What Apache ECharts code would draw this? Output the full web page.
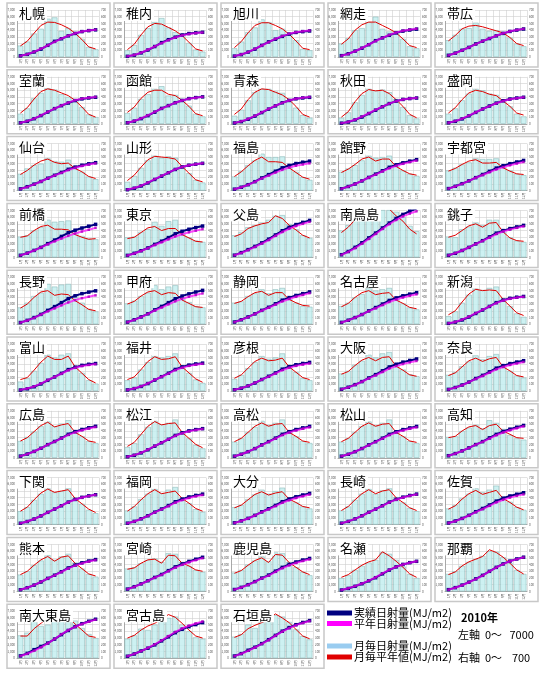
<!DOCTYPE html>
<html>
<head>
<meta charset="utf-8">
<script src="https://cdn.jsdelivr.net/npm/echarts@6/dist/echarts.min.js"></script>
<style>
  html, body { margin: 0; padding: 0; background: #fff; }
  #main { width: 540px; height: 674px; }
</style>
</head>
<body>
<div id="main"></div>
<script>
const months = ['1月', '2月', '3月', '4月', '5月', '6月', '7月', '8月', '9月', '10月', '11月', '12月'];

const stations = [
  '札幌', '稚内', '旭川', '網走', '帯広',
  '室蘭', '函館', '青森', '秋田', '盛岡',
  '仙台', '山形', '福島', '館野', '宇都宮',
  '前橋', '東京', '父島', '南鳥島', '銚子',
  '長野', '甲府', '静岡', '名古屋', '新潟',
  '富山', '福井', '彦根', '大阪', '奈良',
  '広島', '松江', '高松', '松山', '高知',
  '下関', '福岡', '大分', '長崎', '佐賀',
  '熊本', '宮崎', '鹿児島', '名瀬', '那覇',
  '南大東島', '宮古島', '石垣島'
];

// 2010 monthly irradiation (MJ/m2), same order as stations
const actual2010 = [
  [170, 230, 350, 420, 570, 590, 390, 430, 360, 270, 150, 115],
  [100, 180, 330, 430, 520, 580, 440, 370, 330, 210, 110, 80],
  [130, 230, 370, 440, 560, 520, 400, 420, 340, 250, 120, 100],
  [200, 280, 400, 430, 520, 600, 420, 380, 360, 270, 160, 130],
  [250, 330, 420, 430, 510, 420, 390, 400, 370, 290, 200, 160],
  [150, 230, 380, 460, 530, 510, 440, 400, 360, 250, 140, 100],
  [160, 240, 370, 440, 520, 560, 420, 430, 340, 270, 150, 110],
  [120, 210, 350, 470, 520, 520, 480, 460, 350, 240, 130, 90],
  [90, 170, 320, 430, 520, 500, 510, 470, 370, 250, 130, 80],
  [150, 230, 350, 450, 520, 500, 450, 430, 350, 260, 150, 110],
  [250, 330, 380, 400, 480, 440, 430, 460, 330, 280, 210, 170],
  [130, 220, 340, 450, 520, 490, 510, 490, 370, 260, 160, 120],
  [210, 290, 380, 450, 550, 500, 500, 510, 360, 280, 200, 160],
  [280, 330, 380, 450, 520, 490, 500, 520, 370, 300, 250, 220],
  [300, 340, 390, 420, 480, 470, 470, 480, 360, 300, 250, 230],
  [310, 330, 400, 450, 560, 530, 540, 550, 380, 320, 280, 270],
  [300, 310, 380, 420, 530, 470, 540, 560, 380, 300, 250, 230],
  [330, 380, 450, 480, 520, 560, 620, 630, 500, 420, 330, 290],
  [400, 480, 620, 680, 720, 720, 760, 740, 680, 600, 470, 390],
  [310, 300, 420, 460, 520, 480, 560, 560, 380, 300, 250, 230],
  [250, 320, 420, 470, 600, 560, 590, 600, 420, 320, 230, 190],
  [310, 350, 420, 470, 580, 520, 560, 580, 400, 330, 270, 250],
  [320, 340, 420, 460, 520, 460, 520, 540, 380, 320, 270, 260],
  [270, 320, 400, 450, 540, 500, 520, 540, 380, 310, 250, 220],
  [120, 190, 320, 440, 530, 510, 540, 560, 380, 270, 160, 110],
  [140, 190, 300, 420, 540, 500, 540, 560, 360, 270, 160, 110],
  [160, 200, 320, 430, 520, 500, 520, 560, 380, 270, 170, 120],
  [180, 240, 340, 430, 520, 480, 500, 560, 380, 280, 190, 160],
  [260, 300, 390, 450, 540, 500, 560, 580, 400, 320, 250, 220],
  [240, 280, 370, 440, 530, 470, 520, 550, 380, 300, 230, 200],
  [250, 310, 390, 470, 540, 470, 510, 560, 400, 320, 250, 220],
  [160, 220, 350, 460, 550, 500, 520, 570, 390, 290, 190, 140],
  [240, 290, 380, 460, 550, 490, 520, 570, 390, 320, 250, 220],
  [240, 290, 380, 470, 540, 480, 520, 570, 390, 320, 250, 220],
  [310, 320, 400, 450, 490, 440, 560, 520, 430, 340, 290, 270],
  [200, 260, 370, 460, 540, 480, 500, 540, 400, 310, 220, 170],
  [210, 270, 380, 460, 530, 470, 520, 560, 400, 320, 230, 190],
  [260, 290, 380, 450, 520, 460, 500, 550, 400, 330, 270, 240],
  [210, 270, 370, 460, 530, 460, 510, 540, 410, 330, 250, 200],
  [240, 290, 390, 460, 540, 480, 520, 580, 420, 340, 260, 220],
  [250, 300, 390, 460, 540, 470, 520, 560, 430, 340, 260, 220],
  [340, 360, 420, 470, 490, 440, 570, 560, 440, 380, 320, 290],
  [280, 320, 400, 460, 520, 450, 580, 570, 440, 360, 290, 240],
  [200, 240, 320, 380, 430, 470, 580, 560, 470, 370, 260, 200],
  [260, 300, 380, 440, 480, 530, 600, 590, 510, 420, 320, 260],
  [340, 380, 550, 480, 500, 600, 660, 620, 560, 450, 360, 300],
  [290, 340, 440, 420, 500, 590, 600, 620, 500, 400, 310, 290],
  [320, 360, 500, 450, 540, 590, 640, 620, 540, 430, 330, 280]
];

// monthly normal (MJ/m2), same order as stations
const normals = [
  [165, 235, 355, 470, 520, 515, 480, 430, 355, 260, 150, 120],
  [110, 190, 330, 450, 500, 490, 440, 390, 320, 220, 120, 90],
  [140, 230, 360, 470, 510, 510, 470, 420, 340, 240, 130, 110],
  [190, 270, 400, 480, 520, 520, 470, 420, 360, 270, 170, 140],
  [240, 320, 420, 460, 470, 450, 420, 390, 360, 290, 200, 170],
  [160, 240, 370, 480, 520, 500, 460, 420, 350, 250, 140, 100],
  [170, 250, 380, 470, 500, 500, 440, 420, 350, 260, 150, 120],
  [140, 220, 360, 470, 520, 510, 470, 430, 360, 260, 140, 100],
  [100, 180, 330, 450, 510, 490, 500, 450, 360, 260, 140, 90],
  [160, 240, 360, 460, 500, 480, 440, 420, 340, 260, 160, 130],
  [240, 300, 380, 440, 470, 420, 400, 410, 330, 280, 210, 180],
  [150, 230, 350, 460, 510, 500, 490, 470, 360, 260, 160, 130],
  [210, 280, 370, 450, 500, 430, 430, 420, 340, 270, 200, 170],
  [270, 320, 390, 470, 500, 440, 470, 470, 360, 300, 250, 230],
  [290, 330, 390, 440, 460, 410, 410, 420, 340, 290, 250, 240],
  [300, 320, 400, 460, 480, 420, 420, 410, 340, 300, 270, 280],
  [280, 300, 370, 440, 460, 400, 430, 430, 340, 290, 240, 230],
  [310, 350, 430, 470, 500, 520, 620, 580, 480, 410, 330, 290],
  [370, 450, 560, 650, 720, 740, 740, 720, 620, 540, 420, 350],
  [300, 330, 400, 470, 500, 450, 510, 520, 380, 290, 250, 240],
  [240, 300, 400, 480, 500, 430, 450, 440, 350, 290, 220, 200],
  [300, 340, 420, 480, 500, 440, 470, 460, 360, 310, 260, 250],
  [310, 340, 410, 470, 490, 430, 470, 470, 370, 320, 280, 270],
  [260, 310, 400, 470, 500, 440, 460, 470, 360, 310, 250, 230],
  [140, 200, 330, 450, 520, 500, 510, 500, 370, 270, 170, 130],
  [170, 200, 310, 430, 520, 470, 470, 520, 360, 265, 170, 120],
  [170, 210, 320, 440, 510, 470, 480, 510, 360, 270, 180, 130],
  [190, 240, 340, 440, 490, 450, 460, 490, 360, 280, 200, 170],
  [250, 290, 380, 460, 500, 450, 500, 510, 370, 310, 240, 220],
  [230, 270, 360, 450, 490, 440, 480, 500, 360, 300, 230, 210],
  [250, 300, 390, 480, 530, 460, 490, 510, 380, 320, 250, 230],
  [170, 230, 350, 470, 540, 490, 510, 520, 380, 290, 200, 150],
  [240, 290, 380, 470, 520, 470, 500, 510, 380, 320, 250, 230],
  [240, 290, 380, 470, 520, 470, 500, 510, 380, 320, 250, 230],
  [300, 320, 400, 460, 480, 420, 480, 500, 400, 350, 300, 290],
  [200, 260, 370, 470, 530, 480, 500, 520, 390, 310, 230, 180],
  [200, 270, 370, 460, 520, 460, 480, 500, 390, 320, 240, 200],
  [250, 290, 370, 450, 490, 440, 470, 490, 380, 330, 270, 250],
  [210, 270, 370, 460, 520, 460, 500, 520, 400, 330, 250, 210],
  [230, 280, 380, 460, 510, 450, 480, 510, 390, 330, 260, 220],
  [250, 300, 390, 470, 520, 450, 510, 530, 420, 340, 260, 230],
  [330, 350, 420, 470, 480, 420, 540, 530, 420, 380, 320, 300],
  [270, 310, 390, 460, 500, 430, 550, 540, 430, 360, 290, 250],
  [210, 250, 320, 390, 440, 470, 590, 530, 450, 360, 260, 210],
  [250, 290, 380, 440, 480, 520, 620, 580, 510, 420, 320, 260],
  [330, 330, 440, 520, 590, 650, 700, 610, 510, 420, 330, 310],
  [300, 340, 420, 480, 520, 580, 650, 610, 520, 420, 330, 300],
  [310, 350, 440, 490, 530, 580, 660, 600, 530, 430, 330, 290]
];

const leftTicks = [0, 7000, 1000];   // min, max, interval
const rightTicks = [0, 700, 100];

const legendItems = [
  ['実績日射量(MJ/m2)', '#000080'],
  ['平年日射量(MJ/m2)', '#ff00ff'],
  ['月毎日射量(MJ/m2)', '#99ccf0'],
  ['月毎平年値(MJ/m2)', '#e00000']
];

// running total through the year, drawn on the left axis
function cumulate(arr) {
  let s = 0;
  return arr.map(function (v) { return (s += v); });
}

const FONT = '"Noto Sans CJK JP", "Noto Sans", sans-serif';
let myChart = echarts.init(document.getElementById('main'));

const grid = [], xAxis = [], yAxis = [], series = [], title = [], graphic = [];

stations.forEach(function (name, i) {
  const col = i % 5, row = Math.floor(i / 5);
  const px = 7 + col * 107, py = 3 + row * 66.8;

  graphic.push({
    type: 'rect', z: -10, silent: true,
    shape: { x: px, y: py, width: 103, height: 64 },
    style: { fill: '#fff', stroke: '#c8c8c8', lineWidth: 1.5 }
  });

  grid.push({ left: px + 10, top: py + 7, width: 82, height: 47 });

  xAxis.push({
    type: 'category', gridIndex: i, data: months,
    axisTick: { show: false },
    axisLine: { lineStyle: { color: '#999', width: 0.8 } },
    axisLabel: { fontSize: 3, rotate: 90, margin: 2, color: '#555', interval: 0 },
    splitLine: { show: true, interval: 0, lineStyle: { color: '#cfcfcf', width: 0.6 } }
  });

  yAxis.push({
    type: 'value', gridIndex: i,
    min: leftTicks[0], max: leftTicks[1], interval: leftTicks[2],
    axisLine: { show: true, lineStyle: { color: '#999', width: 0.8 } },
    axisTick: { show: false },
    axisLabel: { fontSize: 3, margin: 2, color: '#555' },
    splitLine: { lineStyle: { color: '#cfcfcf', width: 0.6 } }
  });
  yAxis.push({
    type: 'value', gridIndex: i, position: 'right',
    min: rightTicks[0], max: rightTicks[1], interval: rightTicks[2],
    axisLine: { show: false },
    axisTick: { show: false },
    axisLabel: { fontSize: 3, margin: 2, color: '#555' },
    splitLine: { show: false }
  });

  series.push({
    type: 'bar', xAxisIndex: i, yAxisIndex: 2 * i + 1,
    data: actual2010[i], barCategoryGap: '16%', silent: true,
    itemStyle: { color: 'rgba(196,238,240,0.85)', borderColor: '#8fbcbc', borderWidth: 0.6 }
  });
  series.push({
    type: 'line', xAxisIndex: i, yAxisIndex: 2 * i + 1,
    data: normals[i], symbol: 'none', silent: true, z: 3,
    lineStyle: { color: '#e00000', width: 1 }
  });
  series.push({
    type: 'line', xAxisIndex: i, yAxisIndex: 2 * i,
    data: cumulate(actual2010[i]), symbol: 'rect', symbolSize: 3.5, silent: true, z: 4,
    lineStyle: { color: '#000080', width: 2 }, itemStyle: { color: '#000080' }
  });
  series.push({
    type: 'line', xAxisIndex: i, yAxisIndex: 2 * i,
    data: cumulate(normals[i]), symbol: 'rect', symbolSize: 2.5, silent: true, z: 5,
    lineStyle: { color: '#ff00ff', width: 2, opacity: 0.7 },
    itemStyle: { color: '#b000c0', opacity: 0.8 }
  });

  title.push({
    text: name, left: px + 10, top: py + 3,
    padding: [1, 2], backgroundColor: '#fff',
    textStyle: { fontSize: 13, fontWeight: 'normal', color: '#000', fontFamily: FONT }
  });
});

// legend block, bottom right
legendItems.forEach(function (item, k) {
  const y = [613, 623.5, 646, 657][k];
  graphic.push({
    type: 'rect', silent: true,
    shape: { x: 327, y: y - 2.5, width: 25, height: 5 },
    style: { fill: item[1] }
  });
  graphic.push({
    type: 'text', silent: true, x: 354, y: y,
    style: { text: item[0], fill: '#000', font: '11px ' + FONT, verticalAlign: 'middle' }
  });
});
graphic.push({
  type: 'text', silent: true, x: 461, y: 618,
  style: { text: '2010年', fill: '#000', font: 'bold 11px ' + FONT, verticalAlign: 'middle' }
});
graphic.push({
  type: 'text', silent: true, x: 458, y: 635,
  style: { text: '左軸  0～   7000', fill: '#000', font: '11px ' + FONT, verticalAlign: 'middle' }
});
graphic.push({
  type: 'text', silent: true, x: 458, y: 658,
  style: { text: '右軸  0～    700', fill: '#000', font: '11px ' + FONT, verticalAlign: 'middle' }
});

let option = {
  backgroundColor: '#fff',
  animation: false,
  textStyle: { fontFamily: FONT },
  title: title,
  grid: grid,
  xAxis: xAxis,
  yAxis: yAxis,
  series: series,
  graphic: graphic
};

myChart.setOption(option);
</script>
</body>
</html>
